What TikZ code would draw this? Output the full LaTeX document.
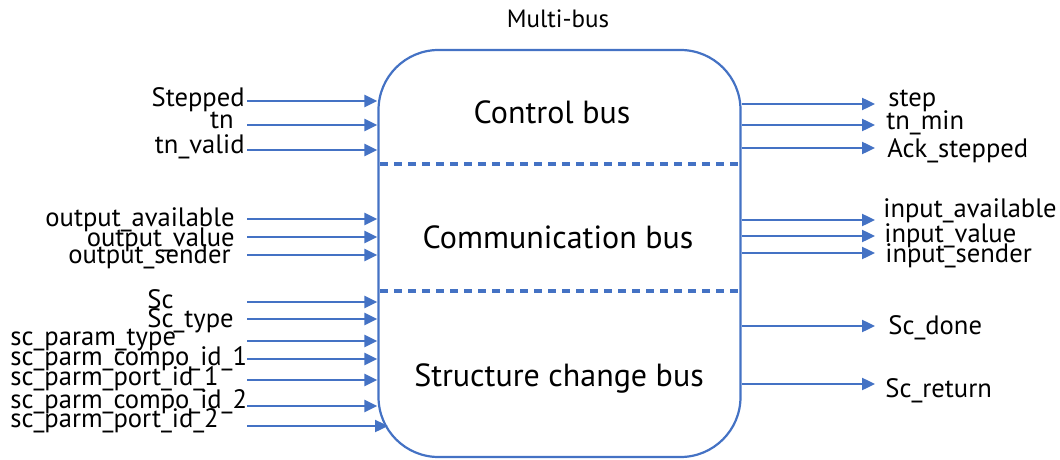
\documentclass[tikz,border=0pt]{standalone}
\usepackage{fontspec}
\setmainfont{PT Sans}
\usetikzlibrary{arrows.meta}
\definecolor{busblue}{RGB}{68,114,196}

\begin{document}
\begin{tikzpicture}[x=0.5pt,y=-0.5pt,
  font=\fontsize{13.3}{15}\selectfont,
  sig/.style={draw=busblue, line width=1.2pt, -{Triangle[length=6.5pt,width=6pt]}},
  lbl/.style={inner sep=0pt},
  buslbl/.style={inner sep=0pt, font=\fontsize{16}{18}\selectfont}]
\useasboundingbox (0,0) rectangle (1060,460);
% the bus box
\node[draw=busblue, line width=1.1pt, rounded corners=30pt, minimum width=181pt,
  minimum height=203.5pt, inner sep=0pt] (bus) at (559.5,253.5) {};
\node[lbl, anchor=base, font=\fontsize{12.5}{14}\selectfont] (title) at (558,28) {Multi-bus};
\draw[busblue, line width=1.6pt, dash pattern=on 4pt off 3pt] (380,164) -- (739,164);
\draw[busblue, line width=1.6pt, dash pattern=on 4pt off 3pt] (380,291) -- (739,291);
\node[buslbl, anchor=base] (ctrl) at (552,124) {Control bus};
\node[buslbl, anchor=base] (comm) at (558,248) {Communication bus};
\node[buslbl, anchor=base] (struct) at (559,386) {Structure change bus};

% inputs
\node[lbl, anchor=base east] (stepped) at (245,107) {Stepped};
\node[lbl, anchor=base east] (tn) at (234,128) {tn};
\node[lbl, anchor=base east] (tnvalid) at (245,154) {tn\_valid};
\node[lbl, anchor=base east] (outav) at (235,226) {output\_available};
\node[lbl, anchor=base east] (outval) at (235,246) {output\_value};
\node[lbl, anchor=base east] (outsend) at (231,263) {output\_sender};
\node[lbl, anchor=base west] (sc) at (147,308) {Sc};
\node[lbl, anchor=base west] (sctype) at (147,327) {Sc\_type};
\node[lbl, anchor=base west] (parmtype) at (10,345) {sc\_param\_type};
\node[lbl, anchor=base west] (compo1) at (10,365) {sc\_parm\_compo\_id\_1};
\node[lbl, anchor=base west] (port1) at (10,385) {sc\_parm\_port\_id\_1};
\node[lbl, anchor=base west] (compo2) at (10,408) {sc\_parm\_compo\_id\_2};
\node[lbl, anchor=base west] (port2) at (10,427) {sc\_parm\_port\_id\_2};

\coordinate (i1) at (247,101);
\coordinate (i2) at (247,125);
\coordinate (i3) at (247,150);
\coordinate (i4) at (247,219);
\coordinate (i5) at (247,237);
\coordinate (i6) at (247,255);
\coordinate (i7) at (247,302);
\coordinate (i8) at (247,319);
\coordinate (i9) at (247,341);
\coordinate (i10) at (247,359);
\coordinate (i11) at (247,380);
\coordinate (i12) at (247,406);
\coordinate (i13) at (247,426);
\coordinate (i13end) at (388,426);

\draw[sig] (i1) -- (i1 -| bus.west);
\draw[sig] (i2) -- (i2 -| bus.west);
\draw[sig] (i3) -- (i3 -| bus.west);
\draw[sig] (i4) -- (i4 -| bus.west);
\draw[sig] (i5) -- (i5 -| bus.west);
\draw[sig] (i6) -- (i6 -| bus.west);
\draw[sig] (i7) -- (i7 -| bus.west);
\draw[sig] (i8) -- (i8 -| bus.west);
\draw[sig] (i9) -- (i9 -| bus.west);
\draw[sig] (i10) -- (i10 -| bus.west);
\draw[sig] (i11) -- (i11 -| bus.west);
\draw[sig] (i12) -- (i12 -| bus.west);
\draw[sig] (i13) -- (i13end);

% outputs
\node[lbl, anchor=base west] (step) at (888,107) {step};
\node[lbl, anchor=base west] (tnmin) at (886,130) {tn\_min};
\node[lbl, anchor=base west] (ack) at (887,157) {Ack\_stepped};
\node[lbl, anchor=base west] (inav) at (883,217) {input\_available};
\node[lbl, anchor=base west] (inval) at (884,242) {input\_value};
\node[lbl, anchor=base west] (insend) at (885,262) {input\_sender};
\node[lbl, anchor=base west] (scdone) at (888,334) {Sc\_done};
\node[lbl, anchor=base west] (scret) at (885,397) {Sc\_return};

\coordinate (o1) at (875,104);
\coordinate (o2) at (875,125);
\coordinate (o3) at (875,148);
\coordinate (o4) at (875,220);
\coordinate (o5) at (875,236);
\coordinate (o6) at (875,253);
\coordinate (o7) at (875,326);
\coordinate (o8) at (875,384);

\draw[sig] (o1 -| bus.east) -- (o1);
\draw[sig] (o2 -| bus.east) -- (o2);
\draw[sig] (o3 -| bus.east) -- (o3);
\draw[sig] (o4 -| bus.east) -- (o4);
\draw[sig] (o5 -| bus.east) -- (o5);
\draw[sig] (o6 -| bus.east) -- (o6);
\draw[sig] (o7 -| bus.east) -- (o7);
\draw[sig] (o8 -| bus.east) -- (o8);
\end{tikzpicture}
\end{document}
